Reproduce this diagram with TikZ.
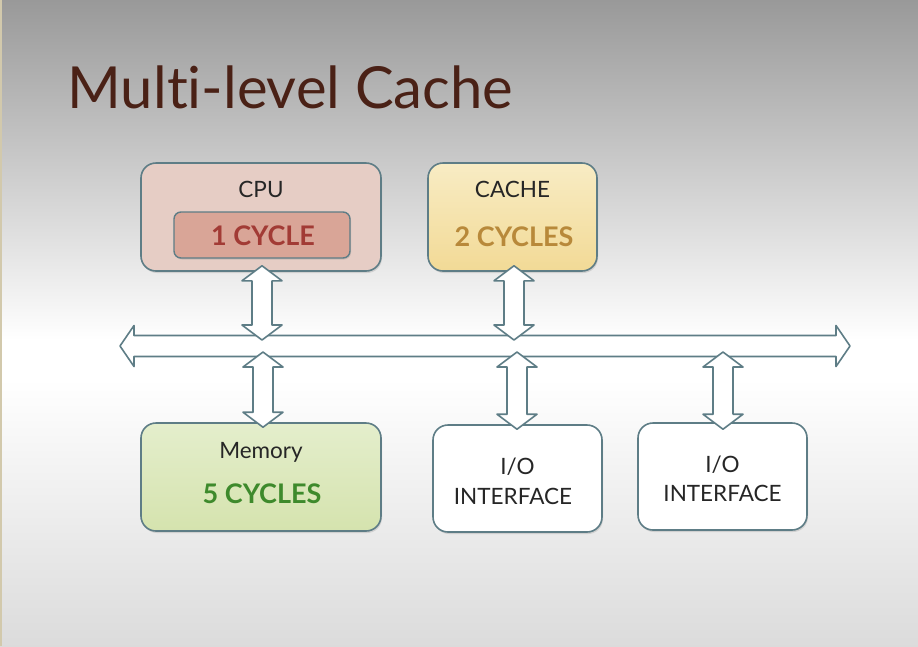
\documentclass[tikz,border=0pt]{standalone}
\usepackage{fontspec}
\setmainfont[Ligatures=NoCommon]{Lato}
\usetikzlibrary{calc,shadows}
\definecolor{edge}{HTML}{5E7D86}
\definecolor{titlebrown}{HTML}{4A2116}
\definecolor{cpufill}{HTML}{E6CDC5}
\definecolor{cycfill}{HTML}{D9A597}
\definecolor{cyctext}{HTML}{A23B35}
\definecolor{cachetop}{HTML}{F8ECC4}
\definecolor{cachebot}{HTML}{F2DA96}
\definecolor{cachetext}{HTML}{B8893A}
\definecolor{memtop}{HTML}{E4EECC}
\definecolor{membot}{HTML}{D5E3AE}
\definecolor{memtext}{HTML}{3E8A2C}
\definecolor{sideline}{HTML}{D2C9AC}
\tikzset{
  box/.style={draw=edge, line width=1.6pt, rounded corners=15pt, inner sep=0pt,
    drop shadow={opacity=0.25, shadow xshift=1pt, shadow yshift=-2pt}},
  innerbox/.style={draw=edge, line width=1.4pt, rounded corners=7pt, inner sep=0pt, fill=cycfill,
    drop shadow={opacity=0.25, shadow xshift=1pt, shadow yshift=-1.5pt}},
  lbl/.style={font=\fontsize{22.5}{26}\selectfont, text=black!85, inner sep=0pt, align=center},
  cyc/.style={font=\fontsize{27}{30}\selectfont\bfseries, inner sep=0pt},
  busline/.style={draw=edge, line width=1.6pt, fill=white, line join=round},
}
\newcommand\vdarrow[2]{%
  \draw[busline] (#1) -- ++(20,15) -- ++(-10,0) -- ($(#2)+(10,-15)$) -- ++(10,0) -- (#2)
    -- ++(-20,-15) -- ++(10,0) -- ($(#1)+(-10,15)$) -- ++(-10,0) -- cycle;}
\begin{document}
\begin{tikzpicture}[x=1pt,y=-1pt]
\useasboundingbox (0,0) rectangle (918,646);
% background
\shade[top color=black!40, bottom color=white] (0,0) rectangle (918,340);
\fill[white] (0,339) rectangle (918,380);
\shade[top color=white, bottom color=black!14] (0,379) rectangle (918,646);
\fill[sideline] (0,0) rectangle (2,646);
% title
\node[anchor=base west, font=\fontsize{58}{60}\selectfont, text=titlebrown] (title) at (64,108) {Multi-level Cache};
% boxes
\node[box, fill=cpufill, minimum width=240pt, minimum height=108pt] (cpu) at (261,217) {};
\node[innerbox, minimum width=176pt, minimum height=46pt] (cyc1) at (262,235) {};
\node[cyc, text=cyctext, anchor=base] (cyc1t) at (263,245.5) {1 CYCLE};
\node[lbl, anchor=base] (cput) at (261,197) {CPU};
\node[box, top color=cachetop, bottom color=cachebot, minimum width=169pt, minimum height=108pt] (cache) at (512.5,217) {};
\node[lbl, anchor=base] (cachet) at (512.5,197) {CACHE};
\node[cyc, text=cachetext, anchor=base] (cache2) at (514,246) {2 CYCLES};
\node[box, top color=memtop, bottom color=membot, minimum width=240pt, minimum height=108pt] (mem) at (261,477) {};
\node[lbl, anchor=base] (memt) at (261,458) {Memory};
\node[cyc, text=memtext, anchor=base] (mem5) at (262,503) {5 CYCLES};
\node[box, fill=white, minimum width=169pt, minimum height=107pt] (io1) at (517.5,478.5) {};
\node[lbl, anchor=base] (io1t) at (517.5,474) {I/O};
\node[lbl, anchor=base] (io1u) at (513,504) {INTERFACE};
\node[box, fill=white, minimum width=169pt, minimum height=107pt] (io2) at (722.5,476.5) {};
\node[lbl, anchor=base] (io2t) at (722.5,472) {I/O};
\node[lbl, anchor=base] (io2u) at (722.5,501) {INTERFACE};
% bus
\coordinate (busL) at (120,346);
\coordinate (busR) at (850,346);
\draw[busline] (busL) -- ++(14,-20.5) -- ++(0,10) -- ($(busR)+(-14,-10.5)$) -- ++(0,-10)
  -- (busR) -- ++(-14,20.5) -- ++(0,-10) -- ($(busL)+(14,10.5)$) -- ++(0,10) -- cycle;
% bus tap points
\coordinate (tapcpu) at (262,340);
\coordinate (tapcache) at (514,340);
\coordinate (tapmem) at (263,352);
\coordinate (tapio1) at (517,352);
\coordinate (tapio2) at (723,352);
% vertical arrows
\vdarrow{$(cpu.south)+(1,-6)$}{tapcpu}
\vdarrow{$(cache.south)+(1.5,-6)$}{tapcache}
\vdarrow{tapmem}{$(mem.north)+(2,5)$}
\vdarrow{tapio1}{$(io1.north)+(-0.5,5)$}
\vdarrow{tapio2}{$(io2.north)+(0.5,7)$}
\end{tikzpicture}
\end{document}
